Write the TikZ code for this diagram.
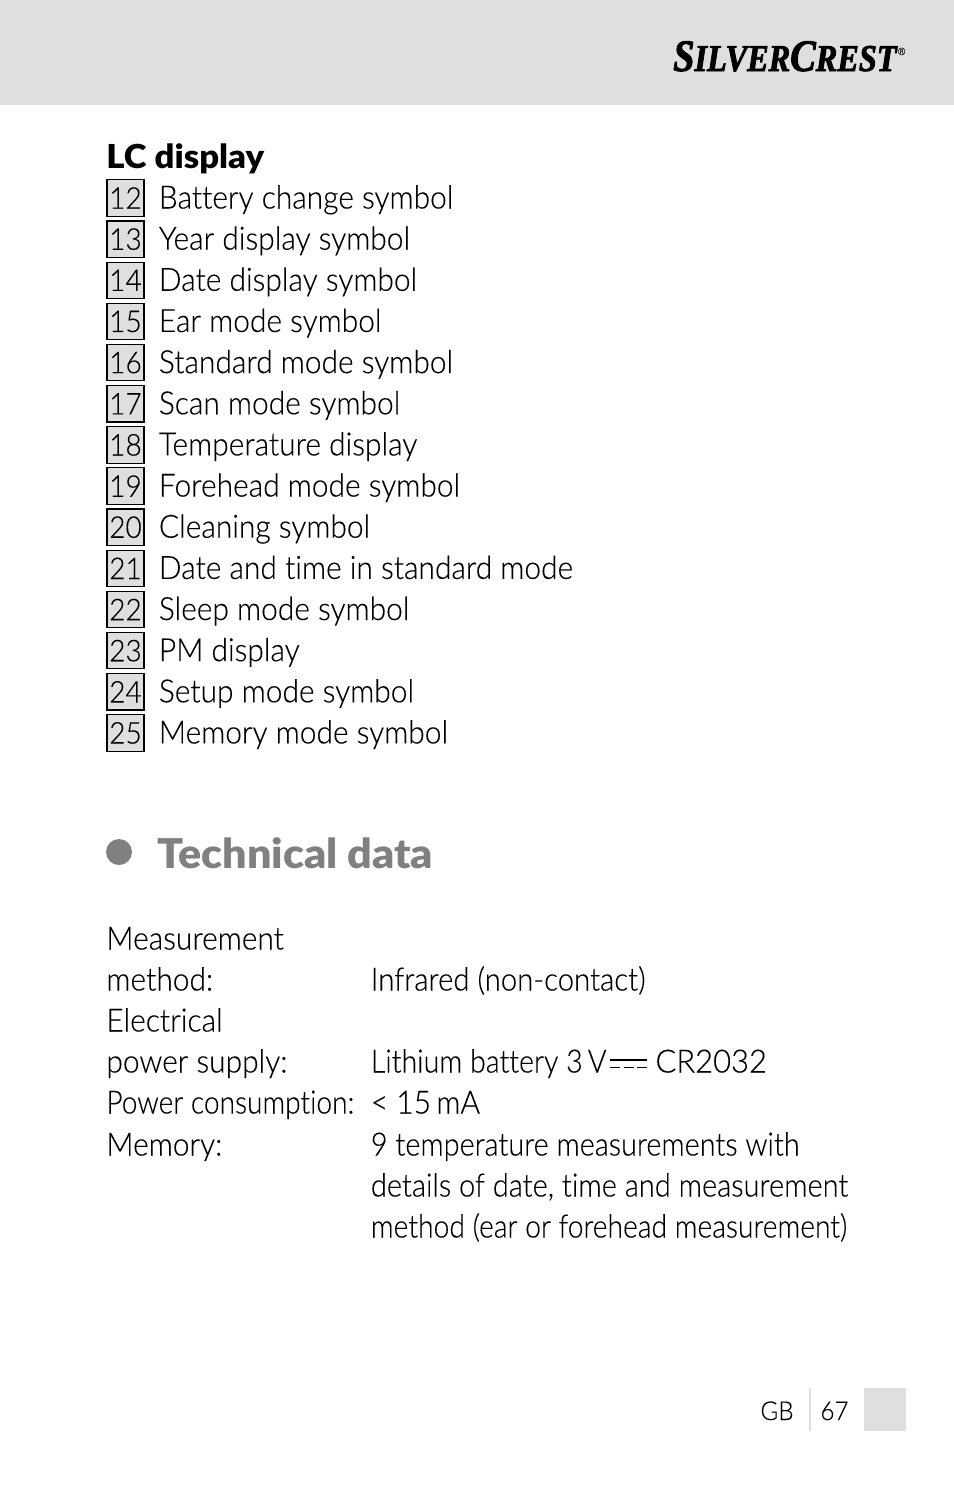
\documentclass[tikz,border=0pt]{standalone}
\usepackage{fontspec}
\setmainfont{Lato Light}[FakeStretch=0.935,FakeBold=0.2,Ligatures=NoCommon,BoldFont=Lato Black,BoldFeatures={FakeStretch=1.05,FakeBold=0}]
\newfontfamily\logofont{Liberation Serif}[BoldItalicFeatures={FakeStretch=0.85,FakeBold=2}]
\usetikzlibrary{positioning}
\definecolor{panelgray}{HTML}{DFDFDF}
\definecolor{headgray}{HTML}{808080}
\tikzset{
	numbox/.style={draw,fill=panelgray,line width=.55pt,minimum width=18.5pt,minimum height=18.2pt,inner sep=0pt,font=\fontsize{15}{15}\selectfont},
	rowlabel/.style={anchor=base west,inner sep=0pt,font=\fontsize{16}{16}\selectfont},
	datalabel/.style={rowlabel},
	squeeze/.style={transform shape,xscale=#1}
}
\begin{document}
\begin{tikzpicture}[x=.5pt,y=-.5pt]
\useasboundingbox (0,0) rectangle (954,1485);
\fill[panelgray] (0,0) rectangle (954,105);
\node[anchor=base east,inner sep=0pt] (logo) at (906,71) {{\logofont\bfseries\itshape\fontsize{22.5}{22.5}\selectfont S\fontsize{19}{19}\selectfont ILVER\fontsize{22.5}{22.5}\selectfont C\fontsize{19}{19}\selectfont REST}\kern.6pt\raisebox{8pt}{\fontsize{5}{5}\selectfont ®}};
\node[rowlabel,font=\fontsize{16.5}{16.5}\selectfont\bfseries] (lchead) at (106,168) {LC display};
\foreach \n/\t [count=\i from 0] in {12/Battery change symbol,13/Year display symbol,14/Date display symbol,15/Ear mode symbol,16/Standard mode symbol,17/Scan mode symbol,18/Temperature display,19/Forehead mode symbol,20/Cleaning symbol,21/Date and time in standard mode,22/Sleep mode symbol,23/PM display,24/Setup mode symbol,25/Memory mode symbol}{
	\node[numbox] (n\n) at (125.5,{198+41.15*\i}) {\n};
	\node[rowlabel] (l\n) at (158.5,{208.5+41.15*\i}) {\t};
}
\fill[headgray] (119,852) circle (6.5pt);
\node[rowlabel,text=headgray,font=\fontsize{20.5}{20.5}\selectfont\bfseries] (techhead) at (157,868) {Technical data};
\node[datalabel] (d1) at (106,949.5) {Measurement};
\node[datalabel] (d2) at (106,990.5) {method:};
\node[datalabel] (d3) at (106,1031.5) {Electrical};
\node[datalabel] (d4) at (106,1072.5) {power supply:};
\node[datalabel,squeeze=.94] (d5) at (106,1113.5) {Power consumption:};
\node[datalabel] (d6) at (106,1155.5) {Memory:};
\node[datalabel,squeeze=.98] (v2) at (370.5,990.5) {Infrared (non-contact)};
\node[datalabel,squeeze=.955] (v4) at (370.5,1072.5) {Lithium battery 3\,V};
\node[datalabel,squeeze=1.035] (v4b) at (655,1072.5) {CR2032};
\draw[line width=.6pt] (610,1060) -- (647,1060);
\draw[line width=.6pt,dash pattern=on 5pt off 1.75pt] (610,1067.5) -- (647,1067.5);
\node[datalabel] (v5) at (370.5,1113.5) {< 15\,mA};
\node[datalabel,squeeze=.965] (v6) at (370.5,1155.5) {9 temperature measurements with};
\node[datalabel,squeeze=.97] (v7) at (370.5,1196.5) {details of date, time and measurement};
\node[datalabel,squeeze=.945] (v8) at (370.5,1237.5) {method (ear or forehead measurement)};
\node[rowlabel,font=\fontsize{13}{13}\selectfont] (lang) at (760,1420) {GB};
\draw[panelgray,line width=.7pt] (810,1388) -- (810,1431);
\node[rowlabel,font=\fontsize{13}{13}\selectfont] (page) at (820,1420) {67};
\fill[panelgray] (864,1388) rectangle (906,1431);
\end{tikzpicture}
\end{document}
